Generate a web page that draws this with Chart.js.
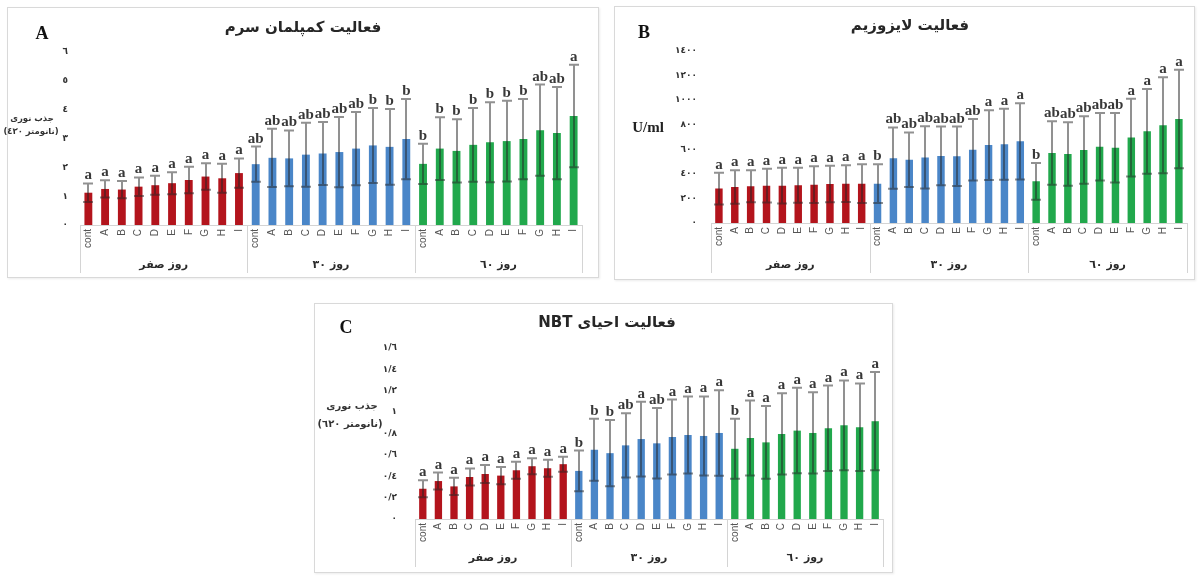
<!DOCTYPE html>
<html><head><meta charset="utf-8">
<script src="https://cdn.jsdelivr.net/npm/chart.js@4/dist/chart.umd.min.js"></script>
<style>
body{margin:0;background:#fff;width:1202px;height:576px;position:relative;overflow:hidden;font-family:"DejaVu Sans",sans-serif;}
.frame{position:absolute;border:1px solid #d9d9d9;box-sizing:border-box;box-shadow:1px 1px 2px rgba(0,0,0,0.08);}
canvas{position:absolute;}
.t{position:absolute;transform:translate(-50%,-50%);white-space:nowrap;color:#262626;}
.title{font:bold 15px "DejaVu Sans",sans-serif;}
.pl{font:bold 18px "Liberation Serif",serif;color:#111;}
.yl{font:bold 10px "DejaVu Sans",sans-serif;color:#333;}
.yls{font:bold 8.5px "DejaVu Sans",sans-serif;color:#333;}
.unit{font:bold 15px "Liberation Serif",serif;color:#222;}
</style></head><body>
<div class="frame" style="left:7px;top:7px;width:592px;height:271px"></div>
<div class="frame" style="left:614px;top:6px;width:581px;height:274px"></div>
<div class="frame" style="left:314px;top:303px;width:579px;height:270px"></div>

<canvas id="cA" width="592" height="271" style="left:7px;top:7px"></canvas>
<canvas id="cB" width="581" height="274" style="left:614px;top:6px"></canvas>
<canvas id="cC" width="579" height="270" style="left:314px;top:303px"></canvas>

<div class="t title" dir="rtl" style="left:303px;top:27px">فعالیت کمپلمان سرم</div>
<div class="t pl" style="left:42px;top:33px">A</div>
<div class="t yls" dir="rtl" style="left:32px;top:118px">جذب نوری</div>
<div class="t yls" dir="rtl" style="left:31px;top:131px">(نانومتر ٤٣٠)</div>

<div class="t title" dir="rtl" style="left:910px;top:25px">فعالیت لایزوزیم</div>
<div class="t pl" style="left:644px;top:32px">B</div>
<div class="t unit" style="left:648px;top:127px">U/ml</div>

<div class="t title" dir="rtl" style="left:607px;top:322px">فعالیت احیای NBT</div>
<div class="t pl" style="left:346px;top:327px">C</div>
<div class="t yl" dir="rtl" style="left:352px;top:405px">جذب نوری</div>
<div class="t yl" dir="rtl" style="left:350px;top:423px">(نانومتر ٦٢٠)</div>

<script>
// ---------- shared categories ----------
const categories = ['cont','A','B','C','D','E','F','G','H','I'];
const groups = ['روز صفر','روز ٣٠','روز ٦٠'];

// ---------- Panel A: serum complement activity ----------
const tickLabelsA = ['٠','١','٢','٣','٤','٥','٦'];
const aDay0  = [1.12,1.25,1.23,1.33,1.38,1.45,1.56,1.68,1.62,1.80];
const aDay30 = [2.11,2.33,2.31,2.44,2.48,2.53,2.65,2.76,2.71,2.98];
const aDay60 = [2.12,2.65,2.57,2.78,2.87,2.91,2.98,3.29,3.19,3.78];
const aSd0   = [0.32,0.30,0.30,0.32,0.33,0.38,0.46,0.46,0.50,0.51];
const aSd30  = [0.61,1.01,0.97,1.11,1.09,1.22,1.27,1.30,1.31,1.39];
const aSd60  = [0.70,1.09,1.10,1.28,1.39,1.40,1.39,1.58,1.60,1.78];
const aSig0  = ['a','a','a','a','a','a','a','a','a','a'];
const aSig30 = ['ab','ab','ab','ab','ab','ab','ab','b','b','b'];
const aSig60 = ['b','b','b','b','b','b','b','ab','ab','a'];

// ---------- Panel B: lysozyme activity ----------
const tickLabelsB = ['٠','٢٠٠','٤٠٠','٦٠٠','٨٠٠','١٠٠٠','١٢٠٠','١٤٠٠'];
const bDay0  = [280,293,299,304,304,307,312,318,320,320];
const bDay30 = [320,528,515,534,546,543,596,634,641,665];
const bDay60 = [339,570,562,594,621,613,695,746,795,847];
const bSd0   = [130,136,130,138,146,143,149,149,150,158];
const bSd30  = [158,250,222,254,239,242,250,283,289,310];
const bSd60  = [150,258,258,274,275,283,317,345,391,401];
const bSig0  = ['a','a','a','a','a','a','a','a','a','a'];
const bSig30 = ['b','ab','ab','ab','ab','ab','ab','a','a','a'];
const bSig60 = ['b','ab','ab','ab','ab','ab','a','a','a','a'];

// ---------- Panel C: NBT reduction activity ----------
const tickLabelsC = ['٠','٠/٢','٠/٤','٠/٦','٠/٨','١','١/٢','١/٤','١/٦'];
const cDay0  = [0.283,0.355,0.305,0.393,0.421,0.406,0.456,0.494,0.475,0.513];
const cDay30 = [0.450,0.648,0.616,0.689,0.748,0.708,0.767,0.786,0.777,0.805];
const cDay60 = [0.657,0.758,0.717,0.796,0.827,0.805,0.849,0.877,0.858,0.915];
const cSd0   = [0.08,0.08,0.08,0.08,0.085,0.08,0.08,0.075,0.08,0.07];
const cSd30  = [0.19,0.29,0.31,0.30,0.35,0.33,0.35,0.36,0.37,0.40];
const cSd60  = [0.28,0.35,0.34,0.38,0.40,0.38,0.40,0.42,0.41,0.46];
const cSig0  = ['a','a','a','a','a','a','a','a','a','a'];
const cSig30 = ['b','b','b','ab','a','ab','a','a','a','a'];
const cSig60 = ['b','a','a','a','a','a','a','a','a','a'];

const barColors = ['#b3141c','#4a86c8','#21a84c'];

function makePanel(canvasId, o) {
  const labels = [];
  groups.forEach(() => categories.forEach(c => labels.push(c)));
  const values = [].concat(...o.means);
  const sds = [].concat(...o.sds);
  const sigs = [].concat(...o.sigs);
  const colors = [];
  o.means.forEach((g, gi) => g.forEach(() => colors.push(barColors[gi])));

  const extras = {
    id: 'extras_' + canvasId,
    afterDatasetsDraw(chart) {
      const ctx = chart.ctx, xs = chart.scales.x, ys = chart.scales.y;
      ctx.save();
      // error bars
      ctx.strokeStyle = 'rgba(35,35,35,0.5)';
      ctx.lineWidth = 2;
      ctx.beginPath();
      values.forEach((v, i) => {
        const px = Math.round(xs.getPixelForValue(i));
        const top = ys.getPixelForValue(v + sds[i]);
        const bot = ys.getPixelForValue(Math.max(0, v - sds[i]));
        ctx.moveTo(px, top); ctx.lineTo(px, bot);
        ctx.moveTo(px - 5, top); ctx.lineTo(px + 5, top);
        ctx.moveTo(px - 5, bot); ctx.lineTo(px + 5, bot);
      });
      ctx.stroke();
      // significance letters
      ctx.fillStyle = '#383838';
      ctx.font = 'bold 15px "Liberation Serif", serif';
      ctx.textAlign = 'center';
      ctx.textBaseline = 'alphabetic';
      values.forEach((v, i) => {
        const px = xs.getPixelForValue(i);
        const top = ys.getPixelForValue(v + sds[i]);
        ctx.fillText(sigs[i], px, top - 4);
      });
      // group separators and labels
      const n = categories.length;
      const bounds = [xs.left];
      for (let g = 1; g < groups.length; g++) {
        bounds.push((xs.getPixelForValue(g * n - 1) + xs.getPixelForValue(g * n)) / 2);
      }
      bounds.push(xs.right);
      ctx.strokeStyle = '#d4d4d4';
      ctx.lineWidth = 1;
      ctx.beginPath();
      bounds.forEach(b => {
        const bx = Math.round(b) + 0.5;
        ctx.moveTo(bx, chart.chartArea.bottom);
        ctx.lineTo(bx, o.sepBottom);
      });
      ctx.stroke();
      ctx.fillStyle = '#2a2a2a';
      ctx.font = 'bold 11px "DejaVu Sans", sans-serif';
      ctx.textBaseline = 'middle';
      groups.forEach((g, gi) => {
        ctx.fillText(g, (bounds[gi] + bounds[gi + 1]) / 2, o.groupY);
      });
      ctx.restore();
    }
  };

  return new Chart(document.getElementById(canvasId), {
    type: 'bar',
    data: {
      labels: labels,
      datasets: [{
        data: values,
        backgroundColor: colors,
        borderWidth: 0,
        barPercentage: 0.47,
        categoryPercentage: 1.0
      }]
    },
    options: {
      responsive: false,
      animation: false,
      devicePixelRatio: 1,
      layout: { padding: { top: o.padTop, right: o.padRight, left: 0, bottom: 0 } },
      plugins: { legend: { display: false }, tooltip: { enabled: false }, title: { display: false } },
      scales: {
        x: {
          offset: true,
          grid: { display: false, drawTicks: false },
          border: { display: true, color: '#d4d4d4', width: 1 },
          ticks: {
            autoSkip: false, minRotation: 90, maxRotation: 90, padding: 4,
            color: '#555', font: { family: 'Liberation Sans', size: 10 }
          },
          afterFit(scale) { scale.height = o.xHeight; }
        },
        y: {
          min: 0, max: o.max,
          grid: { display: false, drawTicks: false },
          border: { display: false },
          ticks: {
            stepSize: o.step, padding: o.tickPad,
            color: '#333', font: { family: 'DejaVu Sans', size: 9, weight: 'bold' },
            callback: (v, i) => o.tickLabels[i]
          },
          afterFit(scale) { scale.width = o.yWidth; }
        }
      }
    },
    plugins: [extras]
  });
}

makePanel('cA', {
  means: [aDay0, aDay30, aDay60], sds: [aSd0, aSd30, aSd60], sigs: [aSig0, aSig30, aSig60],
  max: 6, step: 1, tickLabels: tickLabelsA,
  padTop: 45, padRight: 17, yWidth: 73, xHeight: 53, tickPad: 12,
  sepBottom: 266, groupY: 258
});
makePanel('cB', {
  means: [bDay0, bDay30, bDay60], sds: [bSd0, bSd30, bSd60], sigs: [bSig0, bSig30, bSig60],
  max: 1400, step: 200, tickLabels: tickLabelsB,
  padTop: 45, padRight: 6, yWidth: 97, xHeight: 57, tickPad: 14,
  sepBottom: 267, groupY: 259
});
makePanel('cC', {
  means: [cDay0, cDay30, cDay60], sds: [cSd0, cSd30, cSd60], sigs: [cSig0, cSig30, cSig60],
  max: 1.6, step: 0.2, tickLabels: tickLabelsC,
  padTop: 45, padRight: 10, yWidth: 101, xHeight: 54, tickPad: 18,
  sepBottom: 264, groupY: 255
});
</script>
</body></html>
